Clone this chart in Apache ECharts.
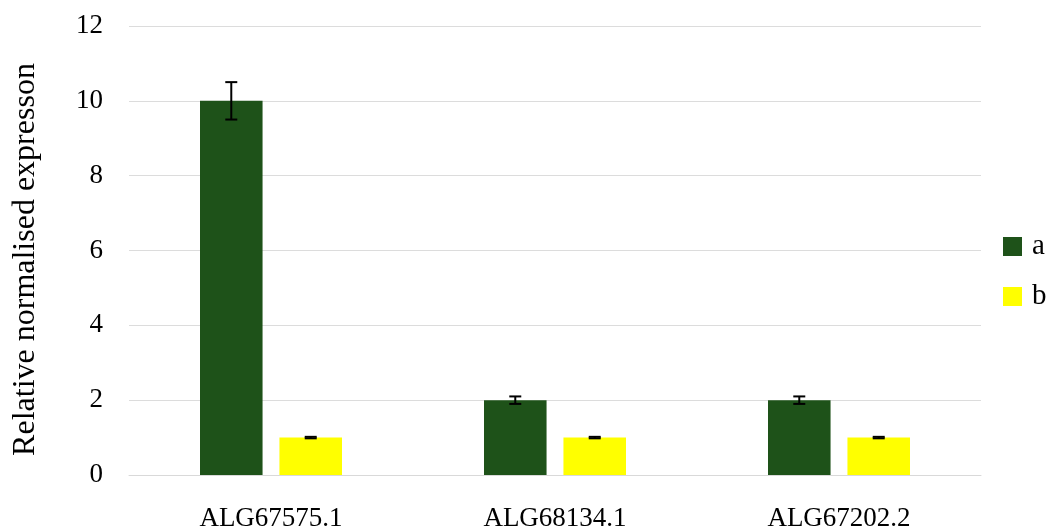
<!DOCTYPE html>
<html>
<head>
<meta charset="utf-8">
<script src="https://cdn.jsdelivr.net/npm/echarts@6/dist/echarts.min.js"></script>
<style>
  html, body { margin: 0; padding: 0; background: #fff; }
  #chart { width: 1050px; height: 532px; }
</style>
</head>
<body>
<div id="chart"></div>
<script>
// Genes on the x axis
const categories = ['ALG67575.1', 'ALG68134.1', 'ALG67202.2'];
// Relative expression per group
const seriesNames = ['a', 'b'];
const valuesA = [10, 2, 2];
const valuesB = [1, 1, 1];
// Standard error for each bar
const errorsA = [0.5, 0.1, 0.1];
const errorsB = [0.02, 0.02, 0.02];
// Y axis ticks
const yTicks = [0, 2, 4, 6, 8, 10, 12];

const FONT = '"Liberation Serif", "DejaVu Serif", serif';
const COLORS = ['#1e5219', '#ffff00'];
const CATEGORY_GAP = 0.5;   // fraction of the band left empty
const BAR_GAP = 0.27;       // gap between bars as fraction of bar width

// Horizontal offset of bar `k` (of n) within a category band
function barOffset(bandWidth, k, n) {
  const barW = bandWidth * (1 - CATEGORY_GAP) / (n + (n - 1) * BAR_GAP);
  const total = n * barW + (n - 1) * BAR_GAP * barW;
  return -total / 2 + barW / 2 + k * barW * (1 + BAR_GAP);
}

function errorSeries(values, errors, k) {
  return {
    type: 'custom',
    silent: true,
    z: 10,
    data: values.map((v, i) => [i, v - errors[i], v + errors[i]]),
    renderItem: function (params, api) {
      const idx = api.value(0);
      const band = api.size([1, 0])[0];
      const dx = barOffset(band, k, 2);
      const lo = api.coord([idx, api.value(1)]);
      const hi = api.coord([idx, api.value(2)]);
      const x = lo[0] + dx;
      const cap = 6;
      const style = { stroke: '#000', lineWidth: 2 };
      return {
        type: 'group',
        children: [
          { type: 'line', shape: { x1: x, y1: hi[1], x2: x, y2: lo[1] }, style },
          { type: 'line', shape: { x1: x - cap, y1: hi[1], x2: x + cap, y2: hi[1] }, style },
          { type: 'line', shape: { x1: x - cap, y1: lo[1], x2: x + cap, y2: lo[1] }, style }
        ]
      };
    }
  };
}

const chart = echarts.init(document.getElementById('chart'), null, { renderer: 'canvas' });

chart.setOption({
  animation: false,
  backgroundColor: '#ffffff',
  textStyle: { fontFamily: FONT },
  grid: { left: 129, right: 69, top: 26, bottom: 55, containLabel: false },
  legend: {
    orient: 'vertical',
    left: 1003,
    top: 232,
    data: seriesNames,
    itemWidth: 19,
    itemHeight: 19,
    itemGap: 21,
    icon: 'rect',
    padding: 0,
    textStyle: { fontFamily: FONT, fontSize: 29, color: '#000', padding: [0, 0, 0, 5] }
  },
  xAxis: {
    type: 'category',
    data: categories,
    axisLine: { show: true, lineStyle: { color: '#d9d9d9', width: 1 } },
    axisTick: { show: false },
    axisLabel: { fontFamily: FONT, fontSize: 27, color: '#000', margin: 30 }
  },
  yAxis: {
    type: 'value',
    min: yTicks[0],
    max: yTicks[yTicks.length - 1],
    interval: yTicks[1] - yTicks[0],
    name: 'Relative normalised expresson',
    nameLocation: 'middle',
    nameGap: 87,
    nameTextStyle: { fontFamily: FONT, fontSize: 32, color: '#000', padding: [0, 18, 0, 0] },
    axisLine: { show: false },
    axisTick: { show: false },
    axisLabel: { fontFamily: FONT, fontSize: 27, color: '#000', margin: 26 },
    splitLine: { lineStyle: { color: '#dcdcdc', width: 1 } }
  },
  series: [
    {
      name: seriesNames[0],
      type: 'bar',
      data: valuesA,
      barCategoryGap: (CATEGORY_GAP * 100) + '%',
      barGap: (BAR_GAP * 100) + '%',
      itemStyle: { color: COLORS[0] }
    },
    {
      name: seriesNames[1],
      type: 'bar',
      data: valuesB,
      barCategoryGap: (CATEGORY_GAP * 100) + '%',
      barGap: (BAR_GAP * 100) + '%',
      itemStyle: { color: COLORS[1] }
    },
    errorSeries(valuesA, errorsA, 0),
    errorSeries(valuesB, errorsB, 1)
  ]
});
</script>
</body>
</html>
